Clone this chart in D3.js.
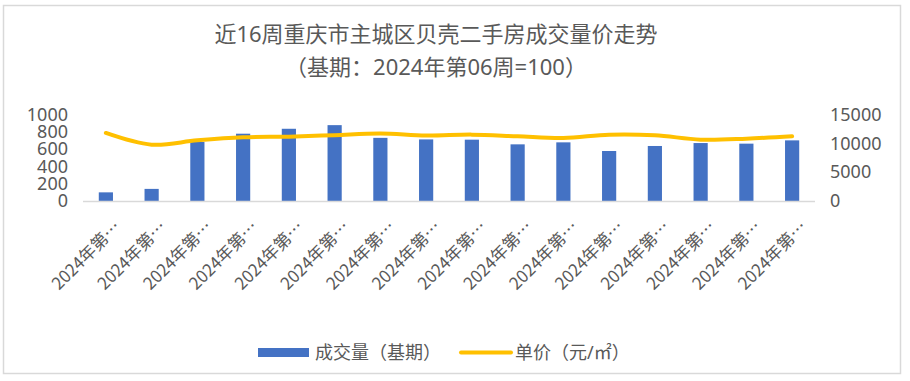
<!DOCTYPE html>
<html><head><meta charset="utf-8">
<script src="https://cdn.jsdelivr.net/npm/d3@7"></script>
<style>
html,body{margin:0;padding:0;background:#fff;}
svg{display:block;font-family:"Noto Sans","Noto Sans CJK SC",sans-serif;}
</style></head>
<body><svg id="c" width="910" height="381"></svg>
<script>
const categories = ["2024年第06周","2024年第07周","2024年第08周","2024年第09周","2024年第10周","2024年第11周","2024年第12周","2024年第13周","2024年第14周","2024年第15周","2024年第16周","2024年第17周","2024年第18周","2024年第19周","2024年第20周","2024年第21周"];
const volumeIndex = [100, 140, 682, 778, 835, 877, 730, 712, 709, 655, 678, 578, 636, 670, 663, 701];
const unitPrice = [11800, 9770, 10520, 11040, 11160, 11420, 11690, 11340, 11510, 11220, 10930, 11510, 11400, 10640, 10810, 11220];
const leftTicks = [0, 200, 400, 600, 800, 1000];
const rightTicks = [0, 5000, 10000, 15000];
const titleLines = ["近16周重庆市主城区贝壳二手房成交量价走势", "（基期：2024年第06周=100）"];
const legendLabels = ["成交量（基期）", "单价（元/㎡）"];

const svg = d3.select("#c");
const textColor = "#595959";
const barColor = "#4472C4";
const lineColor = "#FFC000";

svg.append("rect").attr("x",3.5).attr("y",5.5).attr("width",897).attr("height",368)
  .attr("fill","#fff").attr("stroke","#D9D9D9").attr("stroke-width",1.5);

const x = d3.scaleBand().domain(categories).range([83, 815]).paddingInner(0.69).paddingOuter(0.345);
const yL = d3.scaleLinear().domain([0, 1000]).range([201, 114.5]);
const yR = d3.scaleLinear().domain([0, 15000]).range([201, 114.5]);

// title
svg.append("g").selectAll("text").data(titleLines).join("text")
  .attr("x", 436).attr("y", (d,i)=> 42 + i*33)
  .attr("text-anchor","middle").attr("font-size", 22).attr("fill", textColor)
  .text(d=>d);

// left axis labels
const axL = d3.axisLeft(yL).tickValues(leftTicks).tickSize(0).tickPadding(0).tickFormat(d3.format("d"));
const gL = svg.append("g").attr("transform","translate(68,0)").call(axL);
gL.select(".domain").remove();
gL.selectAll("text").attr("font-size",18).attr("fill",textColor).attr("font-family","Noto Sans, sans-serif");

const axR = d3.axisRight(yR).tickValues(rightTicks).tickSize(0).tickPadding(0).tickFormat(d3.format("d"));
const gR = svg.append("g").attr("transform","translate(830,0)").call(axR);
gR.select(".domain").remove();
gR.selectAll("text").attr("font-size",18).attr("fill",textColor).attr("font-family","Noto Sans, sans-serif");

// bars
svg.append("g").selectAll("rect").data(categories).join("rect")
  .attr("x", d=>x(d)).attr("width", x.bandwidth())
  .attr("y", (d,i)=>yL(volumeIndex[i])).attr("height",(d,i)=>yL(0)-yL(volumeIndex[i]))
  .attr("fill", barColor);

// baseline
svg.append("line").attr("x1",83).attr("x2",815).attr("y1",yL(0)+0.5).attr("y2",yL(0)+0.5)
  .attr("stroke","#D9D9D9").attr("stroke-width",1.5);

// line
const line = d3.line().x((d,i)=>x(categories[i])+x.bandwidth()/2).y(d=>yR(d)).curve(d3.curveCatmullRom.alpha(0.5));
svg.append("path").datum(unitPrice).attr("d", line).attr("fill","none")
  .attr("stroke", lineColor).attr("stroke-width",4).attr("stroke-linecap","round");

// x labels (truncated as in the source)
const axB = d3.axisBottom(x).tickSize(0).tickFormat(d=>d.slice(0,6)+"…");
const gB = svg.append("g").attr("transform",`translate(0,${yL(0)})`).call(axB);
gB.select(".domain").remove();
gB.selectAll("text").attr("font-size",17).attr("fill",textColor)
  .attr("font-family","'Noto Sans CJK SC', sans-serif")
  .attr("text-anchor","end").attr("dy",null).attr("y",null)
  .attr("transform","translate(16,27) rotate(-45)");

// legend
const lg = svg.append("g");
lg.append("rect").attr("x",258).attr("y",348).attr("width",51).attr("height",9).attr("fill",barColor);
lg.append("text").attr("x",315).attr("y",359).attr("font-size",18).attr("fill",textColor).text(legendLabels[0]);
lg.append("line").attr("x1",461).attr("x2",511).attr("y1",352.5).attr("y2",352.5).attr("stroke",lineColor).attr("stroke-width",4).attr("stroke-linecap","round");
lg.append("text").attr("x",515).attr("y",359).attr("font-size",18).attr("fill",textColor).text(legendLabels[1]);
</script></body></html>
